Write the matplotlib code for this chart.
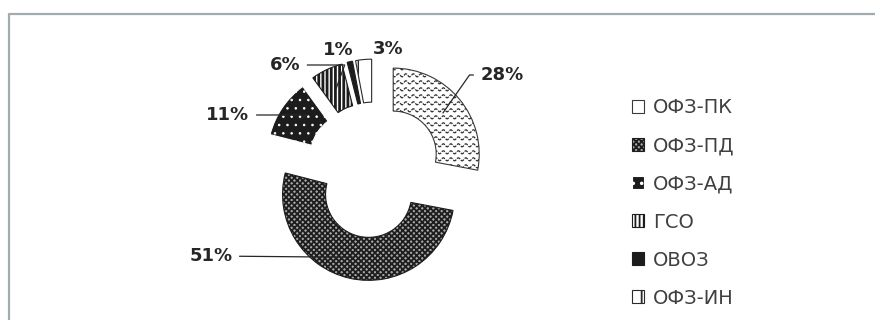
import numpy as np
import matplotlib.pyplot as plt
from matplotlib.lines import Line2D

# Data
labels = ["ОФЗ-ПК", "ОФЗ-ПД", "ОФЗ-АД", "ГСО", "ОВОЗ", "ОФЗ-ИН"]
shares = [28, 51, 11, 6, 1, 3]
pct_labels = ["28%", "51%", "11%", "6%", "1%", "3%"]

# Layout (pixels in an 875x320 canvas)
W, H = 875, 320
CX, CY, RPX = 374, 170, 86
label_px = [(502, 75), (211, 256), (228, 115), (285, 65), (338, 50), (388, 49)]
leader_style = ["angle,angleA=0,angleB=55,rad=0", "arc3", "angle,angleA=0,angleB=35,rad=0",
                "angle,angleA=0,angleB=70,rad=0", None, None]

plt.rcParams["hatch.linewidth"] = 1.3

fig = plt.figure(figsize=(W / 100, H / 100), dpi=100)
ax = fig.add_axes([0, 0, 1, 1])

wedges, _ = ax.pie(shares, startangle=90, counterclock=False, radius=1,
                   explode=[0.29] * len(shares),
                   wedgeprops=dict(width=0.5, linewidth=0.8))

ax.set_aspect("auto")
ax.set_xlim(-CX / RPX, (W - CX) / RPX)
ax.set_ylim(-(H - CY) / RPX, CY / RPX)
ax.axis("off")

# wedge styles: facecolor, edgecolor (also hatch colour), hatch, hatch linewidth
styles = [
    ("white", "#3a3a3a", None, 1.0),
    ("#a8a8a8", "#1e1e1e", "xxxxxx", 1.3),
    ("#1c1c1c", "white", "..", 0.6),
    ("white", "#1c1c1c", "||||", 2.0),
    ("#1c1c1c", "#1c1c1c", None, 1.0),
    ("white", "#2a2a2a", "|", 1.0),
]
for w, (fc, ec, hatch, hlw) in zip(wedges, styles):
    w.set_facecolor(fc)
    w.set_edgecolor(ec)
    if hatch:
        w.set_hatch(hatch)
        if hasattr(w, "set_hatch_linewidth"):
            w.set_hatch_linewidth(hlw)

# wavy texture on the first wedge
wk = wedges[0]
x0, y0 = wk.center
xs = np.linspace(x0 - 1.2, x0 + 1.2, 900)
for yy in np.arange(y0 - 1.2, y0 + 1.2, 7 / RPX):
    ln, = ax.plot(xs, yy + (1.5 / RPX) * np.sin(2 * np.pi * xs / (7.5 / RPX)),
                  color="#2e2e2e", lw=0.9, dashes=(3, 1))
    ln.set_clip_path(wk)

# percentage labels with leader lines
font_lbl = dict(fontsize=13, fontweight="bold", color="#262626", family="DejaVu Sans")
for w, txt, (px, py), cs in zip(wedges, pct_labels, label_px, leader_style):
    tx, ty = (px - CX) / RPX, (CY - py) / RPX
    mid = np.deg2rad((w.theta1 + w.theta2) / 2)
    ox, oy = w.center
    ax_, ay_ = ox + 0.75 * np.cos(mid), oy + 0.75 * np.sin(mid)
    if cs:
        ax.annotate(txt, xy=(ax_, ay_), xytext=(tx, ty), ha="center", va="center",
                    arrowprops=dict(arrowstyle="-", color="#262626", lw=0.9,
                                    connectionstyle=cs, shrinkA=3, shrinkB=0),
                    **font_lbl)
    else:
        ax.text(tx, ty, txt, ha="center", va="center", **font_lbl)

leg = ax.legend(wedges, labels, loc="center left",
                bbox_to_anchor=(632 / W, 1 - 203 / H), bbox_transform=fig.transFigure,
                frameon=False, handlelength=0.62, handleheight=0.62,
                handletextpad=0.45, labelspacing=0.98, borderpad=0, borderaxespad=0,
                labelcolor="#404040", prop={"family": ["DejaVu Sans"], "size": 14})

# chart area border (top and left visible)
fig.add_artist(Line2D([9 / W, 9 / W, 1], [0, 1 - 14 / H, 1 - 14 / H],
                      transform=fig.transFigure, color="#a3abae", lw=1.6))

fig.savefig("out.png", dpi=100)
